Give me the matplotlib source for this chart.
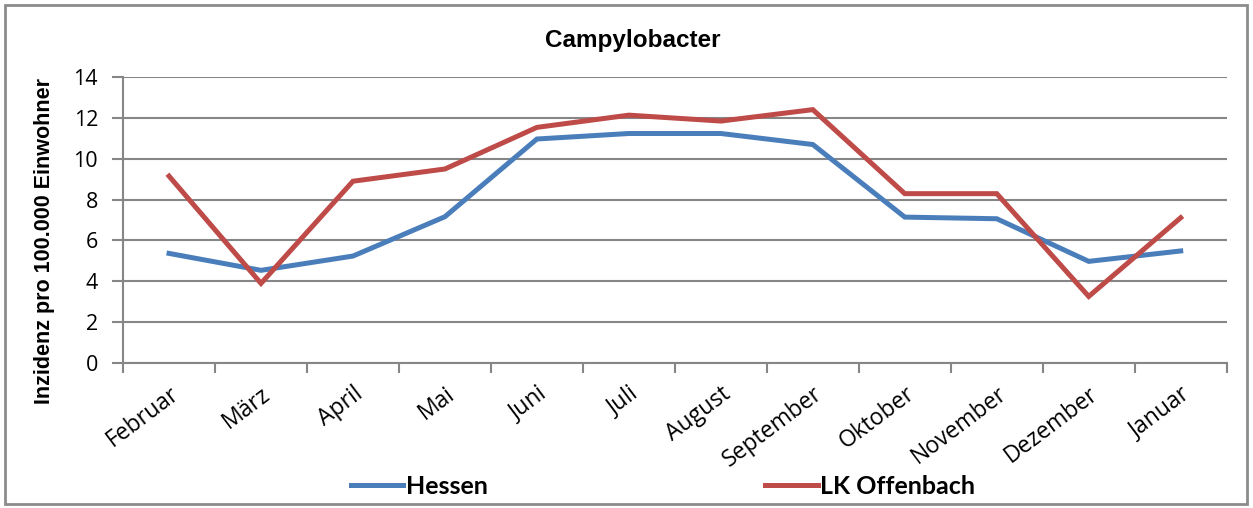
import matplotlib.pyplot as plt
from matplotlib.patches import Rectangle

# data
months = ["Februar", "März", "April", "Mai", "Juni", "Juli", "August",
          "September", "Oktober", "November", "Dezember", "Januar"]
hessen = [5.36, 4.53, 5.23, 7.16, 10.97, 11.24, 11.24, 10.7, 7.14, 7.06, 4.97, 5.48]
offenbach = [9.15, 3.89, 8.9, 9.5, 11.54, 12.14, 11.85, 12.41, 8.29, 8.29, 3.25, 7.11]

BLUE = "#4A7EBB"
RED = "#BE4B48"
GRID = "#868686"

fig = plt.figure(figsize=(12.53, 5.08), dpi=100)
ax = fig.add_axes([0.0982, 0.286, 0.8808, 0.562])

x = list(range(len(months)))
ax.plot(x, hessen, color=BLUE, lw=3.6, label="Hessen", solid_joinstyle="miter")
ax.plot(x, offenbach, color=RED, lw=3.6, label="LK Offenbach", solid_joinstyle="miter")

ax.set_xlim(-0.5, len(months) - 0.5)
ax.set_ylim(0, 14)
ax.set_yticks(range(0, 15, 2))
ax.yaxis.grid(True, color=GRID, lw=1.5)
ax.set_axisbelow(True)

# category labels centred, tick marks between categories
ax.set_xticks(x)
ax.set_xticklabels(months, rotation=37, ha="right", rotation_mode="anchor",
                   family="Open Sans", fontsize=16.5)
ax.tick_params(axis="x", length=0, pad=14)
ax.set_xticks([i - 0.5 for i in range(len(months) + 1)], minor=True)
ax.tick_params(axis="x", which="minor", length=7, width=1.5, color=GRID)
ax.tick_params(axis="y", length=8, width=1.5, color=GRID, pad=10)
for lab in ax.get_yticklabels():
    lab.set_family("Open Sans")
    lab.set_fontsize(15.5)

for s in ["top", "right"]:
    ax.spines[s].set_visible(False)
for s in ["left", "bottom"]:
    ax.spines[s].set_color(GRID)
    ax.spines[s].set_linewidth(1.5)

ax.set_ylabel("Inzidenz pro 100.000 Einwohner", family="Liberation Sans",
              fontweight="bold", fontsize=15.5)
ax.yaxis.set_label_coords(-0.062, 0.426)
fig.text(0.505, 0.921, "Campylobacter", ha="center", va="center",
         family="Liberation Sans", fontweight="bold", fontsize=17.5)

fig.legend(loc="center", bbox_to_anchor=(0.529, 0.043), ncol=2, frameon=False,
           handlelength=2.1, handletextpad=0.1, columnspacing=11.1,
           prop={"family": "Lato", "weight": "bold", "size": 18})

fig.patches.append(Rectangle((0.004, 0.008), 0.991, 0.982, transform=fig.transFigure,
                             fill=False, edgecolor="#8c8c8c", lw=2))

fig.savefig("out.png", dpi=100)
